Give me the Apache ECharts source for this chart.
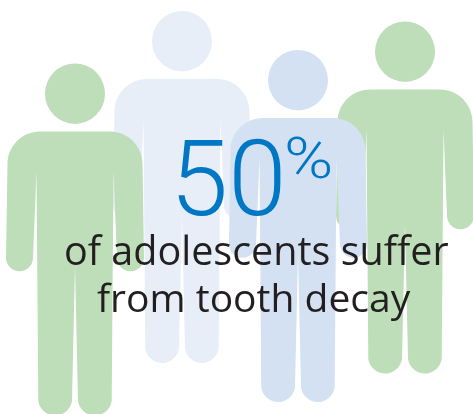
<!DOCTYPE html>
<html><head><meta charset="utf-8">
<style>html,body{margin:0;padding:0;background:#fff}#c{width:473px;height:414px}</style>
<script src="https://cdn.jsdelivr.net/npm/echarts@6/dist/echarts.min.js"></script>
</head><body><div id="c"></div>
<script>
const personX = [182, 75, 405, 298];
const personY = [187, 239.5, 197.5, 226];
const personColors = ['#e7eef8', '#bddeb8', '#bddeb8', '#d3e1f2'];
const bigValue = '50';
const bigUnit = '%';
const captionLines = ['of adolescents suffer', 'from tooth decay'];

const personPath = 'path://M69 0A30 30 0 1 1 69 60A30 30 0 1 1 69 0Z' +
  'M34 67.5L104 67.5C122 67.5 136.5 82 136.5 100L138 193A13.5 13.5 0 0 1 111 193L107.5 107' +
  'L105.7 335A17 17 0 0 1 72 335L69 201L66 335A17 17 0 0 1 32.3 335' +
  'L30.5 107L27 193A13.5 13.5 0 0 1 0 193L1.5 100C1.5 82 16 67.5 34 67.5Z';

const chart = echarts.init(document.getElementById('c'), null, {renderer: 'canvas'});
chart.setOption({
  animation: false,
  grid: {left: 0, right: 0, top: 0, bottom: 0},
  xAxis: {type: 'value', min: 0, max: 473, show: false},
  yAxis: {type: 'value', min: 0, max: 414, inverse: true, show: false},
  series: [{
    type: 'scatter',
    symbol: personPath,
    symbolSize: [138, 352],
    silent: true,
    clip: false,
    data: personX.map((x, i) => ({value: [x, personY[i]], itemStyle: {color: personColors[i], opacity: 1}}))
  }],
  graphic: [
    {type: 'text', z: 10, left: 170, top: 136, style: {text: bigValue, fontFamily: 'Roboto', fontWeight: 300, fontSize: 105, fill: '#0077c4'}},
    {type: 'text', z: 10, left: 284, top: 134, scaleX: 1.15, style: {text: bigUnit, fontFamily: 'Roboto', fontWeight: 300, fontSize: 58, fill: '#0077c4'}},
    {type: 'text', z: 10, left: 64, top: 234, style: {text: captionLines[0], fontFamily: 'Open Sans', fontSize: 39.5, fill: '#231f20'}},
    {type: 'text', z: 10, left: 97, top: 281, style: {text: captionLines[1], fontFamily: 'Open Sans', fontSize: 39, fill: '#231f20'}}
  ]
});
</script></body></html>
